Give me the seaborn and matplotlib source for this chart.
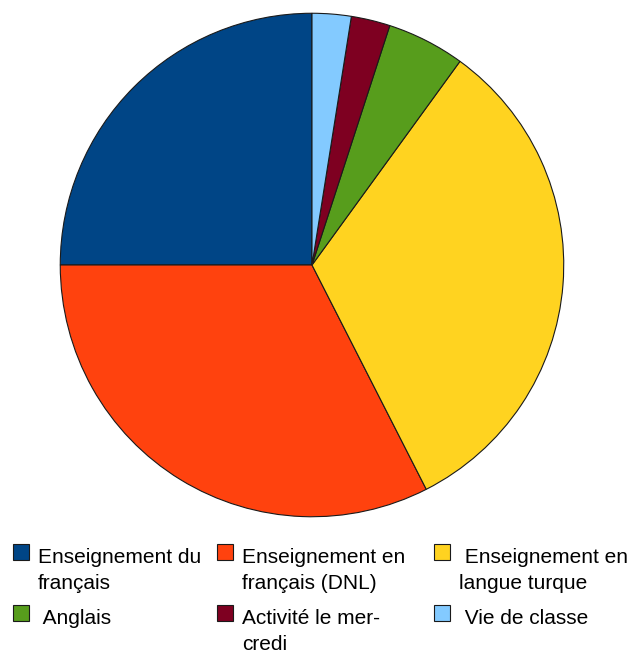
import matplotlib
matplotlib.use("Agg")
import matplotlib.pyplot as plt
from matplotlib.patches import Rectangle
import seaborn as sns

# Share of teaching hours (counterclockwise from 12 o'clock)
labels = ["Enseignement du\nfrançais", "Enseignement en\nfrançais (DNL)", " Enseignement en\nlangue turque",
          " Anglais", "Activité le mer-\ncredi", " Vie de classe"]
hours = [10, 13, 13, 2, 1, 1]
colors = ["#004586", "#ff420e", "#ffd320", "#579d1c", "#7e0021", "#83caff"]

sns.set_theme(style="white")
plt.rcParams['font.family'] = ['Liberation Sans', 'DejaVu Sans']

W, H = 631, 655
fig = plt.figure(figsize=(W / 100, H / 100), dpi=100)
fig.patch.set_facecolor("white")

# pie centred at (312, 265) px with radius 253 px
cx, cy, r = 312, 265, 253
ax = fig.add_axes([(cx - r) / W, (H - cy - r) / H, 2 * r / W, 2 * r / H])
ax.pie(hours, colors=sns.color_palette(colors), startangle=90, counterclock=True,
       radius=1, wedgeprops=dict(edgecolor="#1a1a1a", linewidth=0.8))
ax.set_xlim(-1.005, 1.005)
ax.set_ylim(-1.005, 1.005)
ax.set_aspect("auto")
ax.axis("off")

# manual legend, 3 columns x 2 rows
col_x = [13, 217, 434]
row_y = [544, 605]
for i, (lab, col) in enumerate(zip(labels, colors)):
    c, rw = i % 3, i // 3
    x, y = col_x[c], row_y[rw]
    fig.patches.append(Rectangle((x / W, 1 - (y + 16) / H), 16 / W, 16 / H,
                                 transform=fig.transFigure, facecolor=col,
                                 edgecolor="#1a1a1a", linewidth=0.8))
    for k, line in enumerate(lab.split("\n")):
        fig.text((x + 25) / W, 1 - (y + 19 + 26 * k) / H, line, fontsize=15,
                 va="baseline", ha="left", color="black")

fig.savefig("out.png", dpi=100, facecolor="white")
